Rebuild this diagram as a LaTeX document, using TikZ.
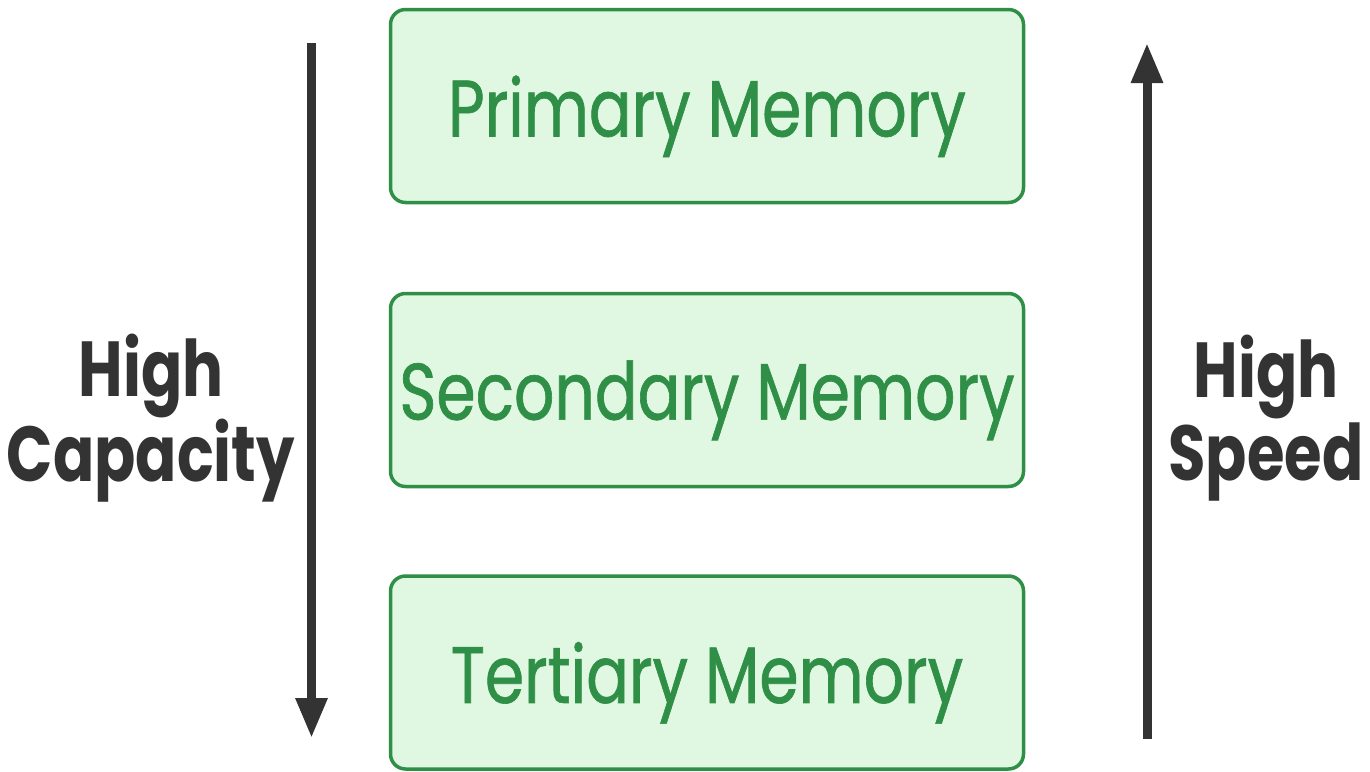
\documentclass[tikz,border=0pt]{standalone}
\usepackage{fontspec}
\setmainfont{Poppins}[FakeStretch=0.78]
\newfontfamily\boxfont{Poppins}[FakeStretch=0.79, FakeBold=0.8]
\usetikzlibrary{arrows.meta}

\definecolor{memgreen}{HTML}{2F8F46}
\definecolor{memfill}{HTML}{E0F7E2}
\definecolor{labelgray}{HTML}{333333}

\begin{document}
\begin{tikzpicture}[x=1pt, y=-1pt,
  membox/.style={draw=memgreen, fill=memfill, line width=3.5pt, rounded corners=15pt,
    minimum width=633pt, minimum height=193pt, inner sep=0pt, text depth=0pt,
    text=memgreen, font=\boxfont\fontsize{80}{90}\selectfont},
  sidelabel/.style={text=labelgray, align=center, font=\bfseries\fontsize{78}{83}\selectfont},
  bigarrow/.style={draw=labelgray, line width=9pt, -{Triangle[length=40pt, width=30pt]}}]
  % keep the page the size of the reference
  \useasboundingbox (0,0) rectangle (1370,771);

  % the three memory levels
  \node[membox] (prim) at (707,106) {Primary Memory};
  \node[membox] (sec) at (707,390) {Secondary Memory};
  \node[membox] (tert) at (707,672.5) {Tertiary Memory};

  % arrow ends
  \coordinate (capTop) at (311.5,43);
  \coordinate (capBot) at (311.5,738);
  \coordinate (spdBot) at (1147,739);
  \coordinate (spdTop) at (1147,43);

  \draw[bigarrow] (capTop) -- (capBot);
  \draw[bigarrow] (spdBot) -- (spdTop);

  \node[sidelabel] (cap) at (151,418) {High\\Capacity};
  \node[sidelabel] (spd) at (1266,418) {High\\Speed};
\end{tikzpicture}
\end{document}
